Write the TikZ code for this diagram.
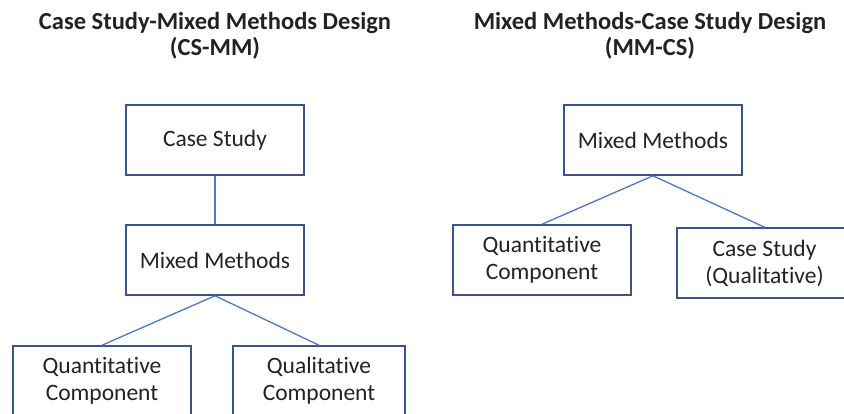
\documentclass[tikz,border=0pt]{standalone}
\usepackage{fontspec}
\setmainfont{Carlito}[Ligatures=NoCommon]
\definecolor{boxline}{HTML}{3A5487}
\definecolor{linkline}{HTML}{4F76BF}
\definecolor{ink}{HTML}{222222}
\begin{document}
\begin{tikzpicture}[x=1pt,y=-1pt,
  title/.style={font=\bfseries\fontsize{24.5}{26.5}\selectfont, text=ink, align=center, inner sep=0pt},
  box/.style={draw=boxline, line width=1.6pt, fill=white, text=ink, align=center,
    font=\fontsize{23.5}{27}\selectfont, inner sep=0pt},
  link/.style={draw=linkline, line width=1.3pt}]
\useasboundingbox (0,0) rectangle (844,414);
\clip (0,0) rectangle (844,414);

% headings (anchored on the baseline of their second line)
\node[title, anchor=base] (t1) at (215,56) {Case Study-Mixed Methods Design\\(CS-MM)};
\node[title, anchor=base] (t2) at (650,56) {Mixed Methods-Case Study Design\\(MM-CS)};

% case study first, then mixed methods
\node[box, minimum width=178pt, minimum height=70pt] (cs1) at (215,140) {Case Study};
\node[box, minimum width=178pt, minimum height=70pt] (mm1) at (215,260) {Mixed Methods};
\node[box, minimum width=178pt, minimum height=70pt] (qn1) at (102,381) {Quantitative\\Component};
\node[box, minimum width=172pt, minimum height=70pt] (ql1) at (319,381) {Qualitative\\Component};

% mixed methods first, then case study
\node[box, minimum width=178pt, minimum height=70pt] (mm2) at (653,140) {Mixed Methods};
\node[box, minimum width=178pt, minimum height=70pt] (qn2) at (542,260) {Quantitative\\Component};
\node[box, minimum width=175pt, minimum height=70pt] (cs2) at (764.5,263) {Case Study\\(Qualitative)};

% connectors
\draw[link] (cs1.south) -- (mm1.north);
\draw[link] (mm1.south) -- (qn1.north);
\draw[link] (mm1.south) -- (ql1.north);
\draw[link] (mm2.south) -- (qn2.north);
\draw[link] (mm2.south) -- (cs2.north);
\end{tikzpicture}
\end{document}
